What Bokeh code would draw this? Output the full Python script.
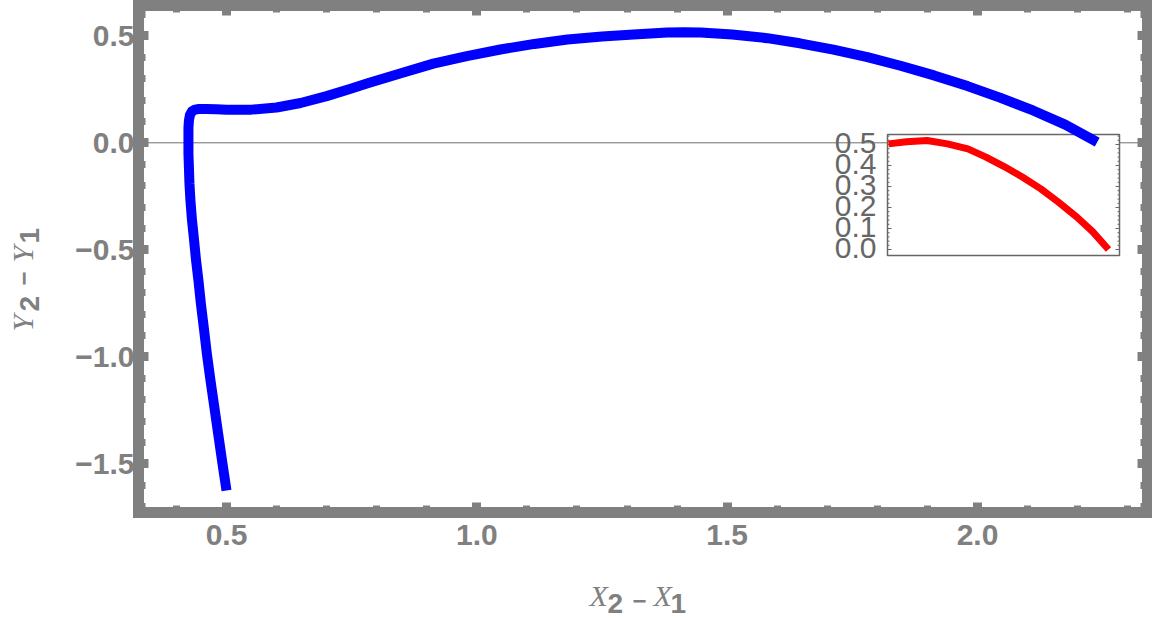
import numpy as np
from bokeh.plotting import figure
from bokeh.layouts import row, column
from bokeh.models import Range1d, LinearAxis, FixedTicker, Span
from bokeh.embed import file_html
from bokeh.resources import INLINE
from bokeh.core.properties import value

# ---------------- data ----------------
curve_x = [0.500, 0.492, 0.484, 0.476, 0.468, 0.461, 0.455, 0.449, 0.444, 0.439,
           0.435, 0.431, 0.428, 0.426, 0.425, 0.424, 0.424, 0.424, 0.425, 0.427,
           0.431, 0.437, 0.445, 0.460, 0.480, 0.500, 0.550, 0.600, 0.648, 0.700,
           0.748, 0.782, 0.850, 0.913, 0.980, 1.047, 1.115, 1.181, 1.250, 1.313,
           1.380, 1.414, 1.447, 1.510, 1.580, 1.645, 1.712, 1.780, 1.846, 1.913,
           1.980, 2.046, 2.112, 2.175, 2.239]
curve_y = [-1.625, -1.500, -1.370, -1.240, -1.110, -0.990, -0.870, -0.755, -0.644, -0.545,
           -0.450, -0.360, -0.270, -0.190, -0.120, -0.050, 0.020, 0.070, 0.105, 0.130,
           0.147, 0.155, 0.158, 0.158, 0.157, 0.155, 0.155, 0.165, 0.186, 0.218,
           0.253, 0.278, 0.326, 0.370, 0.405, 0.436, 0.462, 0.483, 0.497, 0.506,
           0.515, 0.517, 0.515, 0.506, 0.489, 0.465, 0.435, 0.400, 0.360, 0.315,
           0.265, 0.210, 0.150, 0.085, 0.003]

inset_x = [1.27, 1.35, 1.44, 1.53, 1.62, 1.70, 1.78, 1.86, 1.94, 2.02, 2.10, 2.17, 2.24]
inset_y = [0.503, 0.513, 0.519, 0.503, 0.479, 0.440, 0.395, 0.345, 0.290, 0.225, 0.155, 0.085, 0.000]

x_tick_values = [0.5, 1.0, 1.5, 2.0]
x_tick_labels = ["0.5", "1.0", "1.5", "2.0"]
y_tick_values = [-1.5, -1.0, -0.5, 0.0, 0.5]
y_tick_labels = ["\u22121.5", "\u22121.0", "\u22120.5", "0.0", "0.5"]
inset_tick_values = [0.0, 0.1, 0.2, 0.3, 0.4, 0.5]
inset_tick_labels = ["0.0", "0.1", "0.2", "0.3", "0.4", "0.5"]

# ---------------- layout constants (window pixels) ----------------
LAB_W = 50                       # width of the y-label strip
PW, PH = 1152 - LAB_W, 565       # main figure size
XH = 619 - PH                    # height of the x-label strip
WL, WT, WR, WB = 138, 5, 1147, 512   # frame edges in window pixels
FL = WL - LAB_W
FR = 1152 - WR
FW, FH = WR - WL, WB - WT

XPX, YPX = 500.7, 214.0          # pixels per unit, main axes
x0 = 0.5 - (226 - WL) / XPX
x1 = x0 + FW / XPX
y1 = (142.3 - WT) / YPX
y0 = y1 - FH / YPX

ISX, ISY = 226.8, 210.0          # pixels per unit, inset
ix0 = 1.27 - (888 - WL) / ISX
ix1 = 1.27 + (WR - 888) / ISX
iy1 = (249 - WT) / ISY
iy0 = iy1 - FH / ISY
box_l = 1.27 - 1 / ISX
box_r = 1.27 + 231 / ISX
box_t = (249 - 134) / ISY
box_b = (249 - 255) / ISY

FRAME = "#808080"
INSET_GREY = "#666666"

p = figure(width=PW, height=PH, x_range=Range1d(x0, x1), y_range=Range1d(y0, y1),
           output_backend="svg", toolbar_location=None,
           min_border_left=FL, min_border_top=WT,
           min_border_right=FR, min_border_bottom=PH - WB,
           x_axis_location=None, y_axis_location=None)
p.outline_line_color = None
p.grid.visible = False
p.background_fill_color = "white"
p.border_fill_color = "white"

p.extra_x_ranges = {"ix": Range1d(ix0, ix1)}
p.extra_y_ranges = {"iy": Range1d(iy0, iy1)}

x_minor = [round(v, 2) for v in np.arange(0.4, 2.31, 0.1)]
y_minor = [round(v, 2) for v in np.arange(-1.7, 0.61, 0.1)]
xt = FixedTicker(ticks=x_tick_values, minor_ticks=x_minor)
yt = FixedTicker(ticks=y_tick_values, minor_ticks=y_minor)


def style_axis(ax, show_labels):
    ax.axis_line_color = FRAME
    ax.axis_line_width = 11
    ax.axis_line_cap = "square"
    ax.major_tick_line_color = FRAME
    ax.major_tick_line_width = 9
    ax.major_tick_in = 10
    ax.major_tick_out = 0
    ax.minor_tick_line_color = FRAME
    ax.minor_tick_line_width = 7
    ax.minor_tick_in = 7
    ax.minor_tick_out = 0
    if show_labels:
        ax.major_label_text_font = "Liberation Sans"
        ax.major_label_text_font_style = "bold"
        ax.major_label_text_font_size = "30px"
        ax.major_label_text_color = FRAME
    else:
        ax.major_label_text_font_size = "0px"
        ax.major_label_text_color = None
        ax.major_label_standoff = 0


bx = LinearAxis(ticker=xt, major_label_overrides=dict(zip(x_tick_values, x_tick_labels)))
style_axis(bx, True)
bx.major_label_standoff = 12
p.add_layout(bx, "below")
tx = LinearAxis(ticker=xt)
style_axis(tx, False)
p.add_layout(tx, "above")
ly = LinearAxis(ticker=yt, major_label_overrides=dict(zip(y_tick_values, y_tick_labels)))
style_axis(ly, True)
ly.major_label_standoff = 4
p.add_layout(ly, "left")
ry = LinearAxis(ticker=yt)
style_axis(ry, False)
p.add_layout(ry, "right")

# zero axis line
p.add_layout(Span(location=0, dimension="width", line_color="#707070", line_width=1, level="underlay"))

# ---------------- inset ----------------
p.quad(left=[box_l], right=[box_r], bottom=[box_b], top=[box_t], fill_color="white",
       line_color=INSET_GREY, line_width=1.5, x_range_name="ix", y_range_name="iy")

i_minor = [round(v, 2) for v in np.arange(0.0, 0.541, 0.02)]
maj_len, min_len = 4 / ISX, 2 / ISX
segs_x0, segs_x1, segs_y = [], [], []
for v in i_minor:
    ln = maj_len if any(abs(v - m) < 1e-9 for m in inset_tick_values) else min_len
    segs_x0 += [box_l, box_r]
    segs_x1 += [box_l + ln, box_r - ln]
    segs_y += [v, v]
p.segment(x0=segs_x0, y0=segs_y, x1=segs_x1, y1=segs_y, line_color=INSET_GREY,
          line_width=1, x_range_name="ix", y_range_name="iy")

p.text(x=[box_l - 11 / ISX] * len(inset_tick_values), y=inset_tick_values, text=inset_tick_labels,
       x_range_name="ix", y_range_name="iy", text_font=value("Liberation Sans"),
       text_font_size="30px", text_color=INSET_GREY, text_align="right",
       text_baseline="middle", y_offset=-2)

p.line(inset_x, inset_y, line_color="#FF0000", line_width=7, line_join="round",
       x_range_name="ix", y_range_name="iy")

# ---------------- main curve ----------------
p.line(curve_x, curve_y, line_color="#0000FF", line_width=10, line_join="round")


# ---------------- axis-label strips ----------------
def blank(w, h, xr, yr, **borders):
    f = figure(width=w, height=h, x_range=xr, y_range=yr, output_backend="svg",
               toolbar_location=None, min_border=0, x_axis_location=None, y_axis_location=None,
               **borders)
    f.outline_line_color = None
    f.grid.visible = False
    f.border_fill_color = "white"
    return f


SERIF = dict(text_font=value("Liberation Serif"), text_font_style="italic", text_font_size="30px")
SANSB = dict(text_font=value("Liberation Sans"), text_font_style="bold", text_font_size="28px")
MINUS = dict(text_font=value("Liberation Sans"), text_font_style="bold", text_font_size="24px")

# x label strip: frame spans the same window columns as the main frame
xlab = blank(PW, XH, Range1d(WL, WR), Range1d(-619, -PH),
             min_border_left=FL, min_border_right=FR)
x_parts = [("X", SERIF, 589, 595), ("2", SANSB, 607, 603), ("\u2212", MINUS, 632, 600),
           ("X", SERIF, 653, 595), ("1", SANSB, 670, 603)]
for t, st, ax_, cy in x_parts:
    xlab.text(x=[ax_], y=[-cy], text=[t], text_color=FRAME, text_align="left",
              text_baseline="middle", **st)

# y label strip: frame spans the same window rows as the main frame
ylab = blank(LAB_W, 619, Range1d(0, LAB_W), Range1d(-WB, -WT),
             min_border_top=WT, min_border_bottom=619 - WB)
y_parts = [("Y", SERIF, 22, 331), ("2", SANSB, 29, 311), ("\u2212", MINUS, 23, 285),
           ("Y", SERIF, 22, 262), ("1", SANSB, 29, 243)]
for t, st, cx, ay in y_parts:
    ylab.text(x=[cx], y=[-ay], text=[t], text_color=FRAME, text_align="left",
              text_baseline="middle", angle=np.pi / 2, **st)

layout = row(ylab, column(p, xlab))
open("out.html", "w").write(file_html(layout, INLINE))
